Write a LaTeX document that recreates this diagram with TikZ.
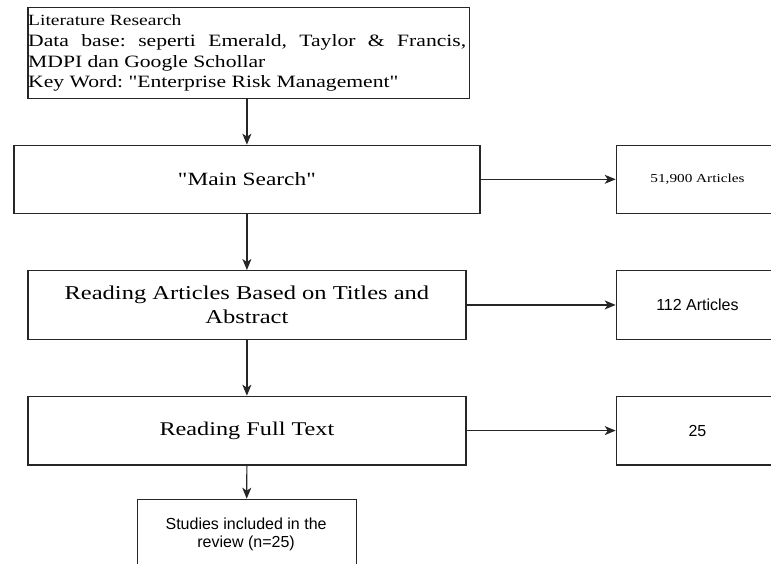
\documentclass[tikz,border=0pt]{standalone}
\usepackage{fontspec}
\setmainfont{Liberation Serif}
\newfontfamily\wserif[FakeStretch=1.25]{Liberation Serif}
\newfontfamily\lsans{Liberation Sans}
\usetikzlibrary{arrows.meta}
\frenchspacing
\begin{document}
\begin{tikzpicture}[x=1pt,y=-1pt,
  box/.style={draw=black!85, line width=1.2pt, inner sep=0pt, anchor=north west},
  conn/.style={line width=1.2pt, draw=black!85, -{Stealth[length=11pt,width=9pt,inset=3pt]}},
  line/.style={anchor=base west, inner sep=0pt},
  bigserif/.style={font=\wserif\fontsize{19.4}{24.5}\selectfont, align=center},
  smallsans/.style={font=\lsans\fontsize{16}{18.5}\selectfont, align=center},
]
\clip (0,0) rectangle (771,564);
% top box
\node[box, minimum width=441.7, minimum height=91] (top) at (27.3,7.3) {};
\node[line] (t1) at (28,26) {\wserif\fontsize{15.6}{18}\selectfont Literature Research};
\node[line] (t2) at (28,47) {\wserif\fontsize{17.3}{20}\selectfont\makebox[438pt][s]{Data base: seperti Emerald, Taylor \& Francis,}};
\node[line] (t3) at (28,67.5) {\wserif\fontsize{17.3}{20}\selectfont MDPI dan Google Schollar};
\node[line] (t4) at (28,88) {\wserif\fontsize{17.3}{20}\selectfont Key Word: "Enterprise Risk Management"};
% main column
\node[box, minimum width=466, minimum height=68, font=\wserif\fontsize{18.7}{22}\selectfont] (main) at (13.3,144.7) {"Main Search"};
\node[box, minimum width=438, minimum height=68.7, bigserif, font=\wserif\fontsize{19.6}{24.5}\selectfont] (ra) at (27.3,270) {Reading Articles Based on Titles and\\Abstract};
\node[box, minimum width=438, minimum height=68.6, bigserif] (rft) at (27.3,395.7) {Reading Full Text};
\node[box, minimum width=218.8, minimum height=90] (st) at (136.7,498.7) {};
\node[smallsans] (sttext) at (246.1,534.4) {Studies included in the\\review (n=25)};
% right column
\node[box, minimum width=162.3, minimum height=68, font=\wserif\fontsize{12.2}{15}\selectfont] (r1) at (615.7,144.7) {51,900 Articles};
\node[box, minimum width=162.3, minimum height=68.7, smallsans] (r2) at (615.7,270) {112 Articles};
\node[box, minimum width=162.3, minimum height=68.6, smallsans] (r3) at (615.7,395.7) {25};
% connectors
\draw[conn] (top.south -| main.north) -- (main.north);
\draw[conn] (main.east) -- (r1.west |- main.east);
\draw[conn] (main.south) -- (ra.north);
\draw[conn] (ra.east) -- (r2.west);
\draw[conn] (ra.south) -- (rft.north);
\draw[conn] (rft.east) -- (r3.west);
\draw[conn] (rft.south) -- (st.north);
\end{tikzpicture}
\end{document}
